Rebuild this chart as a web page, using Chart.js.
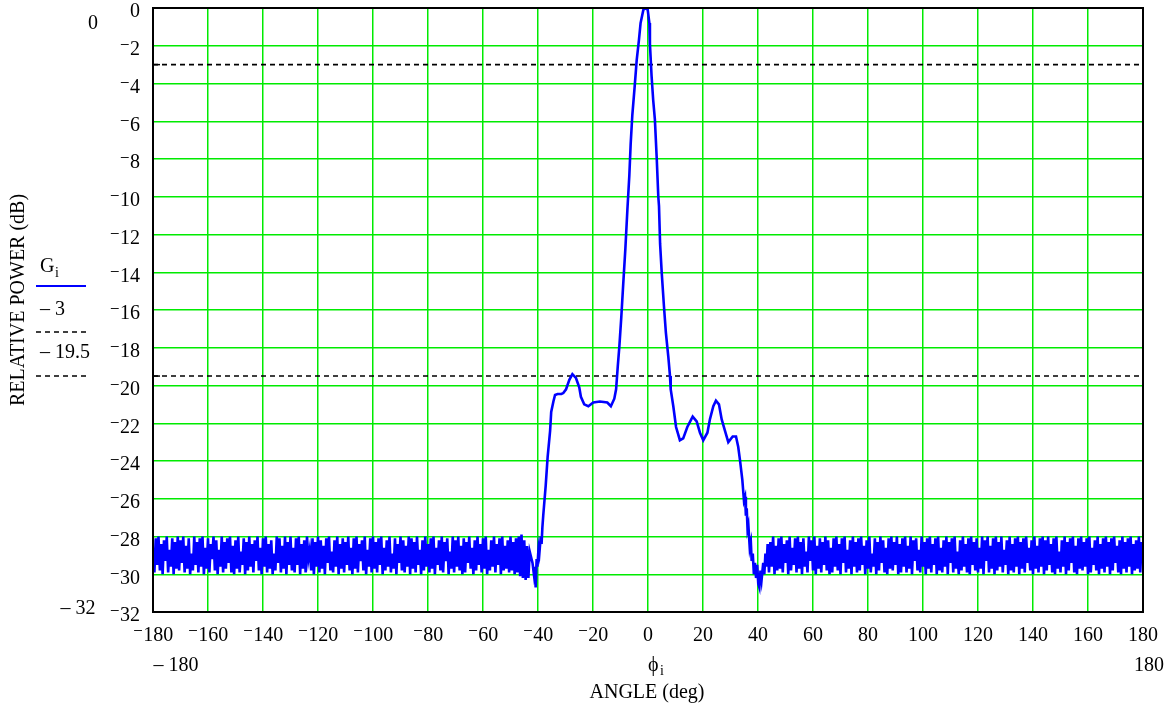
<!DOCTYPE html>
<html>
<head>
<meta charset="utf-8">
<title>Relative power vs angle</title>
<script src="https://cdn.jsdelivr.net/npm/chart.js@4.4.1/dist/chart.umd.min.js"></script>
<style>
  html, body { margin: 0; padding: 0; background: #fff; }
  canvas { display: block; }
</style>
</head>
<body>
<canvas id="patternChart" width="1173" height="709"></canvas>
<script>
// Antenna pattern, G_i vs phi_i

// noise floor left of the main beam, one sample per half degree from -180 to -43
const leftFloorStart = -180;
const floorStep = 0.5;
const leftFloor = [
    -28.6, -29.9, -28.1, -29.5, -28.0, -29.8, -28.4, -30.0, -28.2, -29.3, -28.0, -29.9, -28.7, -29.6, -28.1, -30.0, -28.3, -29.7, -28.0, -29.8,
    -28.2, -29.4, -28.0, -29.9, -28.5, -29.7, -28.1, -30.0, -28.9, -29.8, -28.0, -29.5, -28.3, -29.9, -28.1, -29.6, -28.0, -30.0, -28.6, -29.7,
    -28.1, -29.9, -28.4, -29.2, -28.0, -29.8, -28.2, -30.0, -28.7, -29.6, -28.0, -29.9, -28.3, -29.7, -28.1, -29.4, -28.0, -29.9, -28.5, -30.0,
    -28.2, -29.7, -28.0, -29.9, -28.8, -29.5, -28.1, -30.0, -28.3, -29.8, -28.0, -29.6, -28.4, -29.9, -28.2, -29.3, -28.0, -29.8, -28.6, -30.0,
    -28.1, -29.6, -28.0, -29.9, -28.4, -29.7, -28.2, -30.0, -28.9, -29.8, -28.0, -29.4, -28.1, -29.9, -28.5, -29.7, -28.0, -30.0, -28.3, -29.5,
    -28.0, -29.8, -28.6, -29.9, -28.1, -29.5, -28.0, -30.0, -28.4, -29.7, -28.2, -29.9, -28.0, -29.2, -28.7, -29.8, -28.1, -30.0, -28.3, -29.6,
    -28.0, -29.9, -28.2, -29.7, -28.5, -30.0, -28.1, -29.4, -28.0, -29.8, -28.8, -29.9, -28.2, -29.6, -28.0, -30.0, -28.4, -29.7, -28.1, -29.9,
    -28.3, -29.5, -28.0, -29.8, -28.6, -30.0, -28.1, -29.7, -28.0, -29.9, -28.4, -29.3, -28.2, -29.8, -28.0, -30.0, -28.7, -29.6, -28.1, -29.9,
    -28.0, -29.7, -28.3, -29.9, -28.1, -29.5, -28.0, -30.0, -28.6, -29.8, -28.2, -29.6, -28.0, -29.9, -28.9, -29.7, -28.1, -30.0, -28.4, -29.4,
    -28.0, -29.8, -28.2, -29.9, -28.5, -29.6, -28.0, -30.0, -28.1, -29.7, -28.3, -29.9, -28.0, -29.5, -28.7, -30.0, -28.2, -29.8, -28.0, -29.6,
    -28.4, -29.9, -28.1, -29.7, -28.0, -30.0, -28.6, -29.5, -28.2, -29.8, -28.0, -29.9, -28.3, -29.3, -28.1, -30.0, -28.8, -29.7, -28.0, -29.9,
    -28.2, -29.6, -28.0, -29.8, -28.5, -30.0, -28.1, -29.9, -28.3, -29.4, -28.0, -29.7, -28.6, -30.0, -28.2, -29.8, -28.0, -29.5, -28.4, -29.9,
    -28.1, -29.7, -28.0, -30.0, -28.7, -29.8, -28.2, -29.6, -28.0, -29.9, -28.4, -29.5, -28.1, -30.0, -28.0, -29.8, -28.5, -29.7, -28.2, -29.9,
    -28.0, -29.8, -28.3, -30.0, -28.1, -29.9, -28.0, -30.1, -27.9, -30.2, -28.2, -30.3, -28.5, -30.2, -28.8
];

// main beam and side lobes, traced point by point
const beamAngles = [
    -42, -41.5, -41.2, -40.85, -40.5, -40.2, -39.8, -39.5, -39.0, -38.7,
    -38.4, -38.1, -37.2, -36.5, -35.6, -35.2, -34.4, -33.8, -32.9, -31.5,
    -30.8, -29.8, -28.6, -27.5, -26.2, -25.0, -24.4, -23.2, -21.7, -19.9,
    -17.5, -14.8, -13.5, -12.25, -11.6, -11.0, -10.4, -9.7, -9.0, -8.25,
    -7.5, -6.8, -6.3, -5.7, -4.85, -4.1, -3.3, -2.7, -1.7, -0.9,
    -0.1, 0.5, 0.7, 1.3, 1.9, 2.5, 3.2, 3.75, 4.0, 4.4,
    5.0, 5.8, 6.5, 7.4, 8.0, 8.25, 9.2, 10.2, 11.6, 12.8,
    14.3, 16.25, 17.7, 18.9, 20.1, 21.6, 22.5, 23.75, 24.7, 25.8,
    26.8, 28.0, 29.2, 30.8, 32.0, 32.8, 33.45, 34.3, 34.9, 35.3,
    35.6, 35.9, 36.2, 36.5, 37.0, 37.4, 37.7, 38.1, 38.5, 38.9,
    39.3, 39.7, 40.1, 40.5, 40.9, 41.3, 41.9, 42.3, 42.7, 43.1,
    43.5
];
const beamGains = [
    -29.4, -30.0, -29.6, -30.7, -29.2, -29.6, -28.6, -28.9, -28.0, -28.4,
    -27.5, -26.9, -25.3, -23.8, -22.4, -21.4, -20.85, -20.5, -20.45, -20.45,
    -20.4, -20.2, -19.7, -19.4, -19.6, -20.1, -20.6, -21.0, -21.1, -20.9,
    -20.85, -20.9, -21.1, -20.7, -20.2, -19.0, -17.9, -16.35, -14.6, -12.8,
    -10.7, -8.9, -7.2, -5.67, -4.17, -2.75, -1.7, -0.8, -0.1, 0,
    -0.1, -0.8, -1.9, -3.6, -4.9, -5.9, -8.05, -10.0, -10.5, -12.5,
    -14.05, -15.8, -17.2, -18.5, -19.5, -20.2, -21.1, -22.2, -22.9, -22.8,
    -22.2, -21.65, -21.9, -22.5, -22.9, -22.5, -21.8, -21.1, -20.8, -21.0,
    -21.8, -22.4, -23.0, -22.7, -22.7, -23.25, -23.95, -25.0, -26.1, -25.9,
    -26.9, -26.5, -27.6, -27.4, -28.6, -28.3, -29.3, -28.9, -30.0, -29.4,
    -30.2, -29.5, -30.5, -30.7, -29.8, -30.3, -29.4, -30.0, -28.9, -29.6,
    -28.4
];

// noise floor right of the beam, one sample per half degree from 44 to 180
const rightFloorStart = 44;
const rightFloor = [
    -29.9, -28.3, -29.6, -28.0, -30.0, -28.5, -29.8, -28.1, -29.7, -28.0, -29.9, -28.4, -29.4, -28.2, -30.0, -28.0, -29.8, -28.6, -29.5, -28.1,
    -29.9, -28.0, -29.7, -28.3, -30.0, -28.1, -29.6, -28.8, -29.9, -28.0, -29.3, -28.2, -29.8, -28.0, -30.0, -28.5, -29.7, -28.1, -29.9, -28.3,
    -29.5, -28.0, -29.8, -28.2, -30.0, -28.6, -29.9, -28.1, -29.6, -28.0, -29.8, -28.4, -30.0, -28.1, -29.4, -28.0, -29.9, -28.7, -29.7, -28.2,
    -30.0, -28.0, -29.6, -28.3, -29.9, -28.1, -29.8, -28.0, -29.5, -28.5, -30.0, -28.2, -29.7, -28.0, -29.9, -28.9, -29.6, -28.1, -30.0, -28.3,
    -29.8, -28.0, -29.4, -28.2, -29.9, -28.6, -30.0, -28.1, -29.7, -28.0, -29.8, -28.3, -29.5, -28.0, -30.0, -28.4, -29.9, -28.1, -29.6, -28.0,
    -29.9, -28.5, -29.7, -28.0, -30.0, -28.2, -29.3, -28.1, -29.8, -28.7, -29.9, -28.0, -29.6, -28.3, -30.0, -28.1, -29.7, -28.0, -29.9, -28.4,
    -29.5, -28.1, -30.0, -28.0, -29.8, -28.6, -29.9, -28.2, -29.6, -28.0, -30.0, -28.3, -29.4, -28.1, -29.9, -28.0, -29.7, -28.8, -30.0, -28.2,
    -29.8, -28.0, -29.6, -28.4, -29.9, -28.1, -30.0, -28.0, -29.5, -28.3, -29.8, -28.1, -29.9, -28.6, -29.7, -28.0, -30.0, -28.2, -29.3, -28.0,
    -29.9, -28.5, -29.7, -28.1, -30.0, -28.0, -29.8, -28.3, -29.6, -28.0, -29.9, -28.7, -29.5, -28.2, -30.0, -28.0, -29.8, -28.4, -29.9, -28.1,
    -29.6, -28.0, -30.0, -28.3, -29.7, -28.1, -29.9, -28.0, -29.4, -28.6, -29.8, -28.2, -30.0, -28.0, -29.7, -28.5, -29.9, -28.1, -29.6, -28.0,
    -30.0, -28.2, -29.8, -28.0, -29.5, -28.4, -29.9, -28.1, -30.0, -28.0, -29.7, -28.8, -29.9, -28.2, -29.6, -28.0, -30.0, -28.3, -29.8, -28.1,
    -29.4, -28.0, -29.9, -28.5, -30.0, -28.1, -29.7, -28.0, -29.8, -28.3, -29.6, -28.1, -30.0, -28.0, -29.9, -28.6, -29.5, -28.2, -29.8, -28.0,
    -30.0, -28.4, -29.7, -28.1, -29.9, -28.0, -29.6, -28.3, -30.0, -28.1, -29.8, -28.0, -29.4, -28.5, -29.9, -28.2, -30.0, -28.0, -29.7, -28.3,
    -29.9, -28.1, -29.6, -28.0, -30.0, -28.4, -29.8, -28.2, -29.7, -28.0, -29.9, -28.3, -29.2
];

// reference levels shown dotted
const refLevels = [-3, -19.5];

// axis limits and steps
const xMin = -180, xMax = 180, xStep = 20;
const yMin = -32, yMax = 0, yStep = 2;

const serif = '"Liberation Serif", "DejaVu Serif", serif';

function signed(v) {
    // Mathcad style: small raised minus sign
    return v < 0 ? '\u207B' + Math.abs(v) : String(v);
}

const gainPoints = [];
leftFloor.forEach((g, i) => gainPoints.push({ x: leftFloorStart + i * floorStep, y: g }));
beamAngles.forEach((a, i) => gainPoints.push({ x: a, y: beamGains[i] }));
rightFloor.forEach((g, i) => gainPoints.push({ x: rightFloorStart + i * floorStep, y: g }));

const refSets = refLevels.map(level => ({
    data: [{ x: xMin, y: level }, { x: xMax, y: level }],
    borderColor: '#000',
    borderWidth: 1.6,
    borderDash: [5, 4],
    pointRadius: 0,
    fill: false
}));

// extra Mathcad labels, legend and frame
const extras = {
    id: 'extras',
    afterDraw(chart) {
        const ctx = chart.ctx;
        const a = chart.chartArea;
        const ys = chart.scales.y;
        ctx.save();

        ctx.strokeStyle = '#000';
        ctx.lineWidth = 2;
        ctx.strokeRect(a.left, a.top, a.right - a.left, a.bottom - a.top);

        // small markers where the reference lines meet the frame
        ctx.lineWidth = 1.5;
        refLevels.forEach(level => {
            const py = ys.getPixelForValue(level);
            ctx.beginPath();
            ctx.moveTo(a.left, py);
            ctx.lineTo(a.left + 7, py);
            ctx.stroke();
        });

        ctx.fillStyle = '#000';
        ctx.font = '20px ' + serif;
        ctx.textBaseline = 'middle';
        ctx.textAlign = 'center';
        ctx.fillText('0', 93, 24);
        ctx.fillText('\u2013 32', 78, 609);
        ctx.fillText('\u2013 180', 176, 666);
        ctx.fillText('180', 1149, 666);
        ctx.fillText('ANGLE (deg)', 647, 693);

        // phi_i
        ctx.textAlign = 'left';
        ctx.fillText('\u03D5', 648, 666);
        ctx.font = '14px ' + serif;
        ctx.fillText('i', 660, 671);

        // legend
        ctx.font = '20px ' + serif;
        ctx.fillText('G', 40, 267);
        ctx.font = '14px ' + serif;
        ctx.fillText('i', 55, 273);
        ctx.font = '20px ' + serif;
        ctx.fillText('\u2013 3', 40, 310);
        ctx.fillText('\u2013 19.5', 40, 353);

        ctx.strokeStyle = '#0000ff';
        ctx.lineWidth = 2;
        ctx.beginPath();
        ctx.moveTo(36, 286);
        ctx.lineTo(86, 286);
        ctx.stroke();

        ctx.strokeStyle = '#000';
        ctx.lineWidth = 1.6;
        ctx.setLineDash([5, 4]);
        [332, 376].forEach(py => {
            ctx.beginPath();
            ctx.moveTo(36, py);
            ctx.lineTo(86, py);
            ctx.stroke();
        });
        ctx.setLineDash([]);

        // y axis title
        ctx.translate(19, 300);
        ctx.rotate(-Math.PI / 2);
        ctx.textAlign = 'center';
        ctx.font = '20px ' + serif;
        ctx.fillText('RELATIVE POWER (dB)', 0, 0);

        ctx.restore();
    }
};

const ctx = document.getElementById('patternChart').getContext('2d');
new Chart(ctx, {
    type: 'line',
    data: {
        datasets: [{
            label: 'Gi',
            data: gainPoints,
            borderColor: '#0000ff',
            borderWidth: 2.6,
            pointRadius: 0,
            tension: 0,
            fill: false
        }].concat(refSets)
    },
    options: {
        responsive: false,
        animation: false,
        events: [],
        layout: { padding: { left: 0, right: 30, top: 8, bottom: 0 } },
        plugins: {
            legend: { display: false },
            tooltip: { enabled: false }
        },
        scales: {
            x: {
                type: 'linear',
                min: xMin,
                max: xMax,
                afterFit(scale) {
                    scale.height = 97;
                    scale.paddingLeft = 0;
                    scale.paddingRight = 0;
                },
                border: { display: false },
                grid: { color: 'rgb(0,235,0)', lineWidth: 1.5, drawTicks: false },
                ticks: {
                    stepSize: xStep,
                    padding: 12,
                    color: '#000',
                    font: { family: serif, size: 20 },
                    maxRotation: 0,
                    autoSkip: false,
                    callback: v => signed(v)
                }
            },
            y: {
                type: 'linear',
                min: yMin,
                max: yMax,
                afterFit(scale) {
                    scale.width = 153;
                    scale.paddingTop = 0;
                    scale.paddingBottom = 0;
                },
                border: { display: false },
                grid: { color: 'rgb(0,235,0)', lineWidth: 1.5, drawTicks: false },
                ticks: {
                    stepSize: yStep,
                    padding: 13,
                    labelOffset: 4,
                    color: '#000',
                    font: { family: serif, size: 20 },
                    autoSkip: false,
                    callback: v => signed(v)
                }
            }
        }
    },
    plugins: [extras]
});
</script>
</body>
</html>
